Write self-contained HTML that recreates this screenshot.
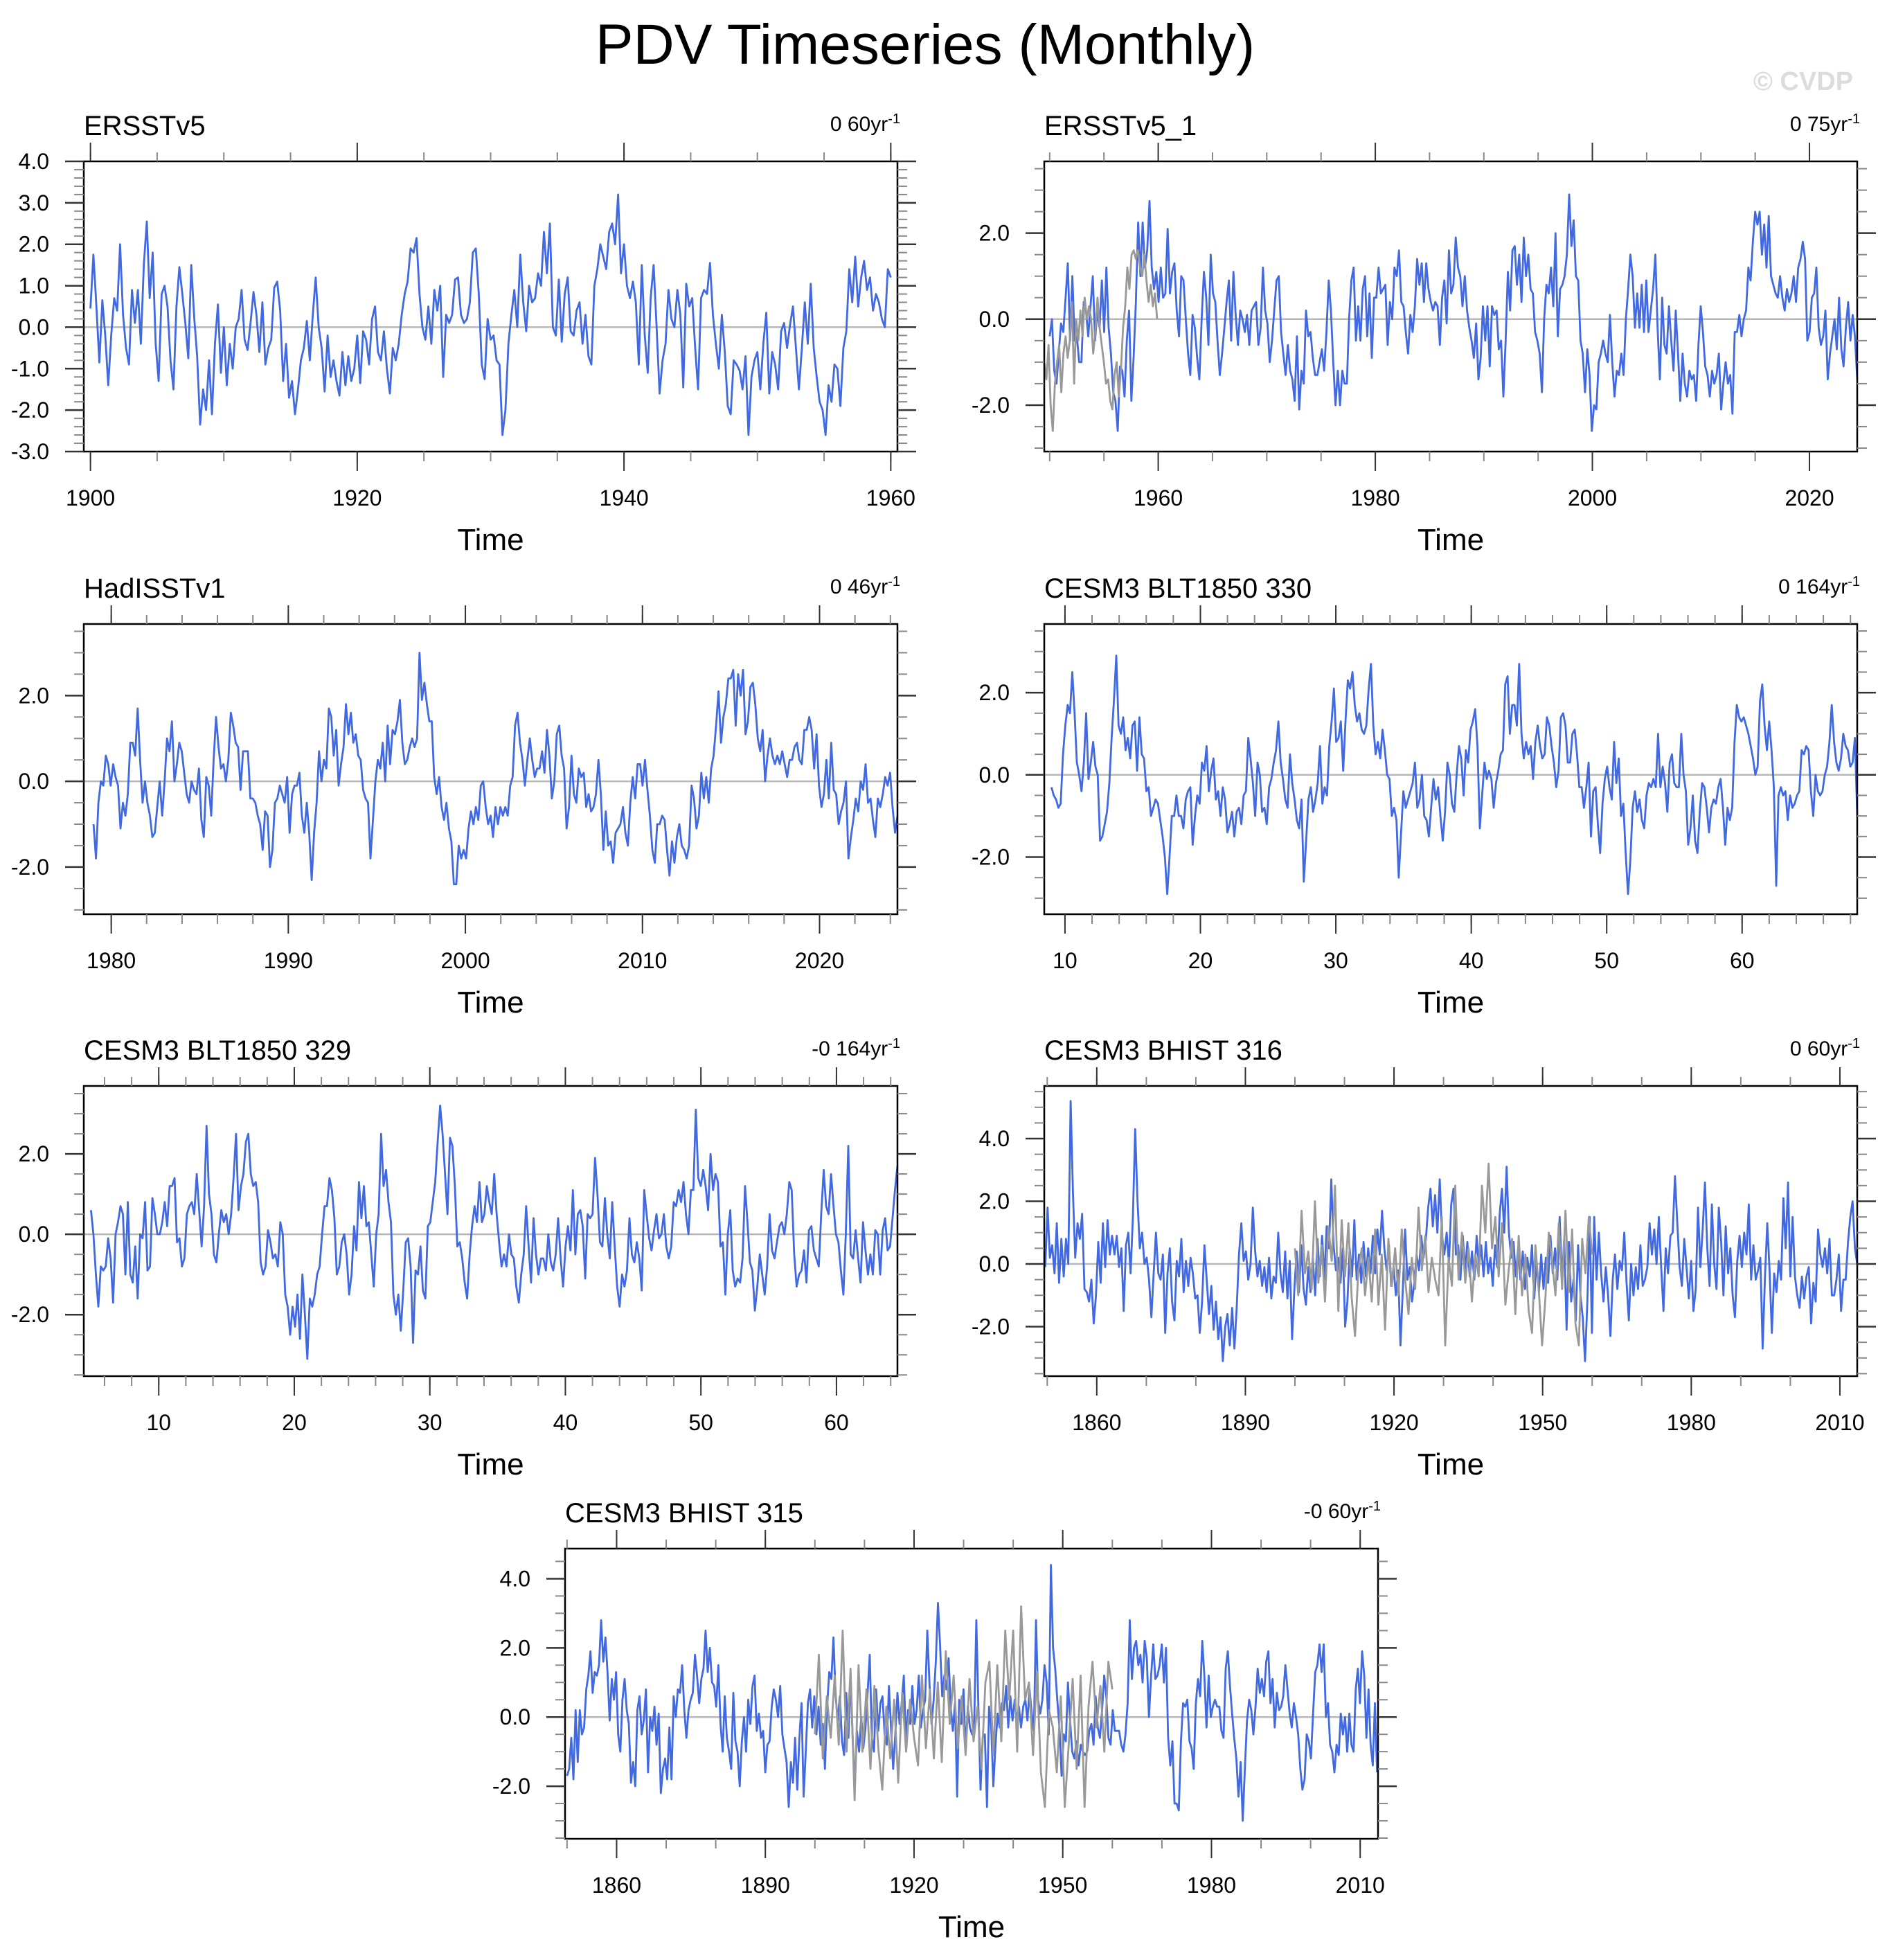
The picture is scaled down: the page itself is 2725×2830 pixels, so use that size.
<!DOCTYPE html>
<html><head><meta charset="utf-8"><title>PDV Timeseries (Monthly)</title>
<style>html,body{margin:0;padding:0;background:#fff;}svg{display:block;}text{font-family:"Liberation Sans",Arial,sans-serif;}</style>
</head><body>
<svg id="chart" xmlns="http://www.w3.org/2000/svg" width="2725" height="2830" viewBox="0 0 2725 2830">
<rect width="2725" height="2830" fill="#fff"/>
<text x="1336" y="92" font-size="82" text-anchor="middle" fill="#000">PDV Timeseries (Monthly)</text>
<text x="2676" y="130" font-size="38" font-weight="bold" text-anchor="end" fill="#dcdcdc">© CVDP</text>
<g id="panels"></g>
</svg>
<script>
// ---------- data ----------
const p1Span = [1900, 1960];
const p1Blue = [0.45,1.75,0.5,-0.85,0.65,-0.2,-1.4,-0.2,0.7,0.4,2.0,0.3,-0.5,-0.9,0.9,0.1,0.9,-0.4,1.5,2.55,0.7,1.8,-0.4,-1.3,0.8,1.0,0.5,-0.8,-1.5,0.5,1.45,0.8,0.1,-0.75,1.5,0.25,-0.7,-2.35,-1.5,-2.0,-0.8,-2.1,-0.4,0.55,-1.1,0.0,-1.4,-0.4,-1.0,0.0,0.2,0.9,-0.3,-0.55,0.1,0.85,0.3,-0.6,0.6,-0.9,-0.5,-0.3,0.95,1.1,0.4,-1.3,-0.4,-1.7,-1.3,-2.1,-1.5,-0.8,-0.5,0.15,-0.8,0.3,1.2,0.0,-0.5,-1.55,-0.2,-1.2,-0.8,-1.3,-1.65,-0.6,-1.4,-0.7,-1.3,-1.0,-0.2,-1.35,-0.1,-0.3,-0.9,0.2,0.5,-0.6,-0.8,-0.1,-1.0,-1.6,-0.5,-0.8,-0.4,0.3,0.8,1.1,1.9,1.8,2.15,0.8,0.0,-0.3,0.5,-0.4,0.9,0.4,1.0,-1.2,0.3,0.1,0.3,1.15,1.2,0.3,0.1,0.2,0.6,1.8,1.9,0.8,-0.9,-1.25,0.2,-0.3,-0.2,-0.8,-0.9,-2.6,-2.0,-0.4,0.3,0.9,0.0,1.75,0.6,-0.1,1.0,0.6,0.7,1.3,1.0,2.3,1.3,2.5,0.0,-0.2,1.15,-0.35,0.8,1.2,-0.1,-0.2,0.4,0.6,-0.4,0.3,-0.7,-0.9,1.0,1.4,2.0,1.7,1.4,2.3,2.5,2.0,3.2,1.3,2.0,1.0,0.7,1.1,0.6,-0.9,1.5,-0.2,-1.1,0.7,1.5,0.0,-1.6,-0.8,-0.4,0.9,0.2,0.0,0.9,0.3,-1.45,1.05,0.5,0.7,-0.5,-1.5,0.7,0.9,0.8,1.55,0.3,-0.4,-1.0,0.3,-0.6,-1.9,-2.1,-0.8,-0.9,-1.05,-1.5,-0.7,-2.6,-1.2,-0.8,-0.6,-1.5,-0.4,0.35,-1.6,-0.6,-0.9,-1.5,-0.1,0.1,-0.5,0.05,0.5,-0.5,-1.5,-0.5,0.6,-0.4,1.05,-0.5,-1.2,-1.8,-2.0,-2.6,-1.4,-1.8,-0.9,-1.0,-1.9,-0.5,-0.1,1.4,0.6,1.7,0.5,1.2,1.6,0.9,1.2,0.4,0.8,0.6,0.2,0.0,1.4,1.2];

const p2Span = [1950.0, 2024.4];
const p2Blue = [-0.4,0.0,-1.2,-1.5,-0.8,-0.1,-0.3,0.5,1.3,-0.5,1.0,-0.5,-0.4,-1.0,-1.0,0.4,0.2,-0.4,0.3,1.0,-0.5,0.2,-0.2,0.9,-0.3,1.2,-0.2,-0.8,-1.7,-1.9,-2.6,-1.1,-1.2,-1.8,-0.5,0.2,-1.9,-0.9,0.4,2.25,1.0,2.25,1.2,1.6,2.75,1.2,0.7,1.1,0.4,1.2,0.5,0.6,2.1,0.6,1.1,1.3,0.2,-0.4,1.0,0.9,0.0,-0.8,-1.3,0.1,-0.2,-0.9,-1.4,0.0,1.1,0.5,-0.6,1.5,0.6,0.4,-0.5,-1.3,-0.8,-0.2,0.4,0.9,-0.5,1.1,0.1,-0.6,0.2,0.0,-0.3,0.1,-0.6,0.2,0.3,0.4,-0.6,-0.2,1.2,0.2,-0.1,-1.0,-0.5,0.2,0.9,1.0,-0.3,-0.8,-1.3,-0.6,-1.2,-1.4,-1.9,-0.4,-2.1,-1.2,-1.5,0.2,-0.4,-0.3,-0.9,-1.3,-1.3,-1.0,-0.7,-1.2,-0.3,0.9,0.2,-1.0,-2.0,-1.2,-2.0,-1.2,-1.5,-1.5,0.0,0.9,1.2,-0.5,0.3,-0.5,0.7,1.0,-0.4,0.6,-0.9,0.5,0.5,1.2,0.6,0.7,0.8,-0.6,0.4,0.0,1.2,1.0,1.6,0.4,0.3,-0.3,-0.8,0.1,-0.3,0.3,1.4,0.8,1.3,0.4,1.3,0.7,0.4,0.2,0.4,0.3,-0.6,0.5,0.9,-0.1,1.6,0.6,0.8,1.9,1.2,1.0,0.3,1.0,0.2,-0.2,-0.5,-0.9,-0.1,-1.4,-0.9,0.3,-0.5,0.3,-1.1,0.3,0.1,0.2,-0.7,-0.5,-1.8,-0.5,1.1,0.2,1.6,1.7,0.8,1.5,0.4,1.9,1.0,1.5,0.7,0.6,-0.3,-0.5,-0.8,-1.7,0.0,0.8,0.6,1.2,0.3,2.0,-0.4,0.7,0.8,1.0,1.5,2.9,1.7,2.3,1.0,0.9,-0.5,-0.8,-1.7,-0.7,-1.3,-2.6,-2.0,-2.1,-1.0,-0.8,-0.5,-0.8,-1.0,0.1,-1.0,-1.8,-1.2,-1.3,-0.8,-1.3,0.0,0.7,1.5,1.0,-0.2,0.6,-0.2,0.8,-0.3,0.9,-0.3,0.2,0.7,1.5,-0.2,-1.4,0.5,-0.6,-0.8,0.3,-0.5,-1.2,0.2,-0.8,-1.9,-0.8,-1.5,-1.8,-1.2,-1.4,-1.3,-1.9,-0.6,0.3,-0.3,-1.1,-1.3,-1.8,-1.2,-1.5,-1.3,-0.8,-2.1,-1.5,-1.0,-1.5,-1.3,-2.2,-0.3,-0.3,0.1,-0.4,0.0,0.2,1.2,0.9,1.8,2.5,2.2,2.5,1.5,2.2,1.2,2.4,1.0,0.8,0.6,0.5,1.0,0.5,0.2,0.7,0.4,0.6,1.0,0.4,1.2,1.4,1.8,1.4,-0.5,-0.3,0.5,0.6,1.2,-0.2,-0.6,-0.4,0.2,-1.4,-0.8,-0.4,0.0,-0.7,0.5,-0.7,-1.1,-0.2,0.4,-0.5,0.1,-0.4,-1.4];
const p2GraySpan = [1949.5, 1959.9];
const p2Gray = [-1.0,-1.4,-0.6,-2.0,-2.6,-1.5,-1.0,-0.6,-1.7,-0.8,-0.4,-0.9,-0.5,0.4,-1.5,0.0,-0.5,0.2,-0.4,0.5,0.0,0.3,0.0,-0.8,-0.3,0.5,-0.2,-0.6,-1.0,-1.5,-1.4,-1.9,-2.1,-1.3,-1.0,-1.8,-1.2,-0.2,0.3,1.2,0.7,1.5,1.6,1.4,1.6,1.2,1.0,1.5,0.9,0.4,0.8,0.3,0.6,0.0];

const p3Span = [1979.0, 2024.4];
const p3Blue = [-1.0,-1.8,-0.5,0.0,-0.1,0.6,0.4,-0.1,0.4,0.1,-0.1,-1.1,-0.5,-0.8,-0.3,0.9,0.9,0.6,1.7,0.5,-0.5,0.0,-0.5,-0.8,-1.3,-1.2,-0.6,0.0,-0.8,0.0,1.0,0.7,1.4,0.0,0.4,0.9,0.7,0.2,-0.3,-0.5,0.0,-0.2,-0.3,0.3,-0.9,-1.3,0.1,-0.1,-0.8,0.5,1.5,0.8,0.3,0.4,0.0,0.5,1.6,1.3,0.9,0.8,-0.2,0.7,0.7,0.7,-0.4,-0.4,-0.5,-0.8,-1.0,-1.6,-0.7,-0.8,-2.0,-1.6,-0.5,-0.4,-0.1,-0.3,-0.5,0.1,-1.2,-0.3,-0.1,-0.1,0.2,-0.8,-1.2,-0.5,-1.2,-2.3,-1.2,-0.5,0.7,0.0,0.5,0.3,1.7,1.5,0.6,1.2,-0.1,0.4,0.8,1.8,1.1,1.6,0.9,1.1,0.6,0.5,-0.2,-0.4,-0.5,-1.8,-0.9,0.0,0.5,0.3,0.9,0.0,1.3,0.4,1.2,1.1,1.4,1.9,0.9,0.4,0.5,0.8,1.0,0.8,1.0,3.0,1.9,2.3,1.8,1.4,1.4,0.1,-0.3,0.1,-0.6,-0.9,-0.5,-1.1,-1.4,-2.4,-2.4,-1.5,-1.8,-1.6,-1.8,-1.1,-0.7,-1.0,-0.6,-0.9,-0.1,0.0,-0.6,-1.0,-0.8,-1.3,-0.6,-1.0,-0.6,-0.8,-0.6,-0.8,-0.1,0.1,1.3,1.6,0.9,0.5,-0.1,0.5,1.0,0.5,0.1,0.3,0.3,0.7,0.2,1.2,0.6,-0.4,0.0,1.1,1.3,0.6,0.3,-1.1,-0.6,0.6,-0.3,-0.5,0.3,0.1,0.2,-0.6,-0.3,-0.7,-0.6,-0.3,0.5,-0.3,-1.6,-0.7,-1.5,-1.4,-1.9,-1.2,-1.1,-1.0,-0.6,-1.2,-1.5,-0.5,0.1,-0.4,0.4,0.4,-0.1,0.5,-0.2,-0.8,-1.6,-1.9,-1.0,-1.0,-0.8,-0.9,-1.6,-2.2,-1.4,-1.9,-1.3,-1.0,-1.5,-1.6,-1.8,-1.5,-0.1,-0.4,-1.1,-0.8,0.2,-0.4,0.1,-0.5,0.3,0.6,1.3,2.1,0.9,1.5,1.8,2.4,2.4,2.6,1.3,2.5,2.0,2.6,1.1,1.4,2.2,2.3,1.8,1.0,0.7,1.2,0.0,0.6,1.0,0.6,0.4,0.6,0.4,0.7,0.4,0.1,0.5,0.5,0.8,0.9,0.5,0.4,1.2,1.2,1.5,1.2,0.3,1.1,-0.1,-0.6,-0.3,0.5,-0.4,0.9,-0.2,-0.3,-1.0,-0.7,-0.5,0.0,-1.8,-1.3,-0.9,-0.4,-0.7,0.0,-0.2,0.4,-0.5,-0.4,-0.9,-1.3,-0.4,-0.6,-0.3,0.1,-0.1,0.2,-0.6,-1.2,-0.8];

const p4Span = [9.0, 68.5];
const p4Blue = [-0.3,-0.5,-0.6,-0.8,-0.7,0.5,1.2,1.7,1.5,2.5,1.5,0.3,0.0,-0.4,0.3,1.5,-0.1,0.3,0.8,0.2,0.0,-1.6,-1.5,-1.2,-0.9,-0.2,0.9,1.8,2.9,1.2,1.0,1.4,0.6,0.9,0.4,1.2,1.3,0.1,1.4,0.5,0.4,-0.4,-0.3,-1.0,-0.8,-0.6,-0.7,-1.1,-1.5,-2.0,-2.9,-2.0,-1.0,-1.0,-0.5,-1.0,-1.0,-1.3,-0.6,-0.4,-0.3,-1.7,-1.0,-0.5,-0.7,0.3,0.1,0.7,-0.4,0.1,0.4,-0.6,-0.4,-1.0,-0.3,-0.6,-1.4,-1.2,-0.9,-1.5,-0.9,-0.8,-1.2,-0.5,-0.4,0.9,0.4,-0.2,-1.0,0.3,0.0,-0.9,-0.8,-1.2,-0.3,-0.1,0.3,0.6,1.3,0.3,-0.1,-0.6,-0.8,0.5,-0.2,-0.6,-1.1,-1.3,-0.6,-2.6,-1.6,-0.6,-0.3,-0.9,-0.6,-0.2,0.7,-0.7,-0.3,-0.5,0.7,1.3,2.1,0.8,0.9,1.3,0.1,1.3,2.3,2.1,2.5,1.7,1.3,1.5,1.1,1.0,1.2,2.1,2.7,1.2,0.5,0.8,0.4,1.1,0.6,0.0,-0.1,-1.0,-0.8,-1.1,-2.5,-1.4,-0.4,-0.8,-0.6,-0.4,-0.2,0.3,-0.8,-0.6,0.0,-1.0,-1.1,-1.5,-0.8,-0.1,-0.6,-0.3,-1.0,-1.6,-0.9,0.3,0.0,-0.7,-0.9,0.0,0.7,0.4,-0.5,0.6,0.3,1.1,1.3,1.6,0.7,-1.3,-0.5,0.3,-0.1,0.1,-0.1,-0.8,-0.2,0.1,0.5,0.6,2.2,2.4,1.0,1.7,1.7,1.2,2.7,1.0,0.4,0.8,0.5,0.7,-0.1,0.8,1.2,0.7,0.4,0.5,1.4,1.2,0.7,0.3,-0.3,0.1,1.4,1.5,1.2,0.3,0.3,1.0,1.1,0.5,-0.3,-0.3,-0.8,-0.3,0.3,-1.5,-0.4,-0.3,-1.2,-1.9,-0.7,-0.1,0.2,-0.3,-0.6,0.8,-0.2,0.4,-1.0,-0.7,-1.9,-2.9,-2.1,-0.8,-0.4,-0.9,-0.6,-1.1,-1.3,-0.5,-0.2,-0.3,-0.1,-0.3,1.0,-0.3,0.2,-0.2,-0.9,0.3,0.5,-0.2,-0.3,-0.3,1.0,0.0,-0.4,-1.7,-1.3,-0.5,-1.6,-1.9,-0.9,-0.2,-0.3,-0.8,-1.4,-0.8,-0.6,-0.7,-0.3,-0.1,-0.8,-1.7,-0.8,-1.1,-0.8,0.8,1.7,1.4,1.3,1.4,1.2,1.0,0.7,0.4,0.0,0.2,1.8,2.2,1.2,0.6,1.3,0.6,-0.3,-2.7,-0.5,-0.3,-0.5,-0.4,-1.1,-0.5,-0.8,-0.7,-0.5,-0.4,0.6,0.5,0.7,0.6,-0.4,-1.0,0.0,-0.4,-0.5,-0.4,0.0,0.2,0.8,1.7,0.8,0.3,0.1,0.4,1.0,0.7,0.6,0.2,0.3,0.9,-1.0];

const p5Span = [5.0, 64.5];
const p5Blue = [0.6,0.0,-1.0,-1.8,-0.8,-0.9,-0.8,-0.1,-0.6,-1.7,0.0,0.3,0.7,0.5,-1.0,0.8,-1.0,-1.2,-0.3,-1.6,0.0,-0.1,0.8,-0.9,-0.8,0.9,0.5,0.0,0.0,0.3,0.8,0.2,1.2,1.2,1.4,-0.2,-0.1,-0.8,-0.6,0.5,0.7,0.8,0.5,1.5,0.6,-0.3,0.7,2.7,1.0,0.5,-0.5,-0.7,0.0,0.6,0.3,0.5,0.0,0.5,1.4,2.5,0.6,1.2,1.5,2.3,2.5,1.5,1.2,1.3,0.8,-0.7,-1.0,-0.8,0.1,-0.2,-0.6,-0.5,-0.8,0.3,0.0,-1.5,-1.8,-2.5,-1.8,-2.3,-1.5,-2.6,-1.0,-2.0,-3.1,-1.6,-1.8,-1.5,-1.0,-0.8,0.0,0.7,0.7,1.4,1.1,0.4,-1.0,-0.8,-0.2,0.0,-0.5,-1.5,-1.0,0.2,-0.4,1.3,0.4,1.2,0.2,0.3,-0.5,-1.3,0.0,0.5,2.5,1.2,1.6,0.8,0.3,-1.5,-2.0,-1.5,-2.4,-1.4,-0.2,-0.1,-0.8,-2.7,-0.9,-1.0,-0.3,-1.4,-1.6,0.2,0.3,0.8,1.3,2.3,3.2,2.5,1.5,0.5,2.4,2.2,1.2,-0.3,-0.2,-0.6,-1.2,-1.6,-0.5,0.2,0.7,0.3,1.3,0.3,0.5,1.2,0.8,0.5,1.5,0.5,-0.2,-0.8,-0.5,-0.8,0.0,-0.5,-0.6,-1.3,-1.7,-1.0,-0.5,0.7,-0.3,-1.2,0.4,-0.5,-1.0,-0.6,-0.6,-0.9,0.0,-0.7,-0.9,-0.5,0.4,-0.6,-1.3,-0.3,0.2,-0.4,1.1,-0.5,0.5,0.6,0.2,-1.1,0.5,0.4,0.5,1.9,1.0,-0.2,-0.3,0.9,0.0,-0.6,0.8,-0.3,-1.3,-1.8,-1.0,-1.3,-0.9,0.4,-0.5,-0.7,-0.2,-0.6,-1.4,1.1,0.5,-0.1,-0.4,0.1,0.5,-0.1,0.0,0.5,-0.3,-0.6,-0.3,0.8,0.7,1.1,0.8,1.3,0.5,0.0,1.1,1.1,3.1,1.4,1.2,1.6,1.2,0.6,2.0,1.1,1.5,1.3,-0.3,-0.2,-1.5,0.0,0.6,-0.9,-1.3,-1.1,-1.2,-0.6,1.2,0.3,-0.7,-0.9,-1.9,-1.3,-0.5,-1.0,-1.5,-0.8,0.5,-0.4,-0.6,-0.2,0.2,0.3,0.0,0.5,1.3,1.1,-0.5,-1.3,-1.0,-0.9,-0.4,-1.2,0.1,0.2,-0.4,-0.6,-0.8,0.5,1.6,0.7,0.5,1.5,0.7,0.0,-0.2,-0.9,-1.5,0.0,2.2,-0.5,-0.6,0.1,-0.6,-1.2,0.3,-0.4,-1.0,-0.5,-1.0,0.1,0.0,-1.0,0.1,0.4,-0.4,-0.3,0.4,1.1,1.7];

const p6Span = [1849.6, 2013.5];
const p6Blue = [-0.1,1.8,0.2,0.6,-0.3,1.3,-0.6,0.8,-0.4,0.8,0.0,5.2,2.3,0.2,1.3,0.8,1.6,-0.8,-0.9,-1.2,-0.5,-1.9,-1.0,0.7,-0.6,1.3,-0.1,1.4,0.3,0.9,0.3,0.9,-0.1,0.5,-1.5,0.6,1.0,-0.3,1.5,4.3,2.0,0.5,1.0,0.0,0.2,-0.5,-1.7,-0.3,1.0,-0.3,-0.5,0.3,-2.2,-0.3,0.5,-1.2,-1.8,0.1,-0.4,0.8,-0.9,0.1,-0.7,0.2,-0.3,-1.1,-1.0,-2.2,-1.2,0.6,-0.5,-1.6,-0.7,-2.1,-1.2,-2.4,-1.7,-3.1,-2.0,-1.6,-2.6,-1.4,-2.7,-1.4,0.3,1.3,0.1,0.4,-0.5,0.0,1.8,0.4,-0.4,0.1,-0.7,-0.1,-0.9,0.2,-1.1,-0.4,-0.6,1.0,-0.3,-0.9,0.4,-1.1,0.1,-2.4,-0.8,0.4,-0.9,0.6,-0.8,-1.3,-0.1,-0.9,0.2,-1.0,0.8,-0.4,0.9,-0.5,1.2,0.5,2.7,0.6,-0.2,0.2,-0.6,0.5,-2.0,-1.2,0.5,-0.4,1.4,-0.5,0.3,-0.6,0.7,-0.4,0.5,-0.3,0.9,-0.3,1.1,0.3,1.7,0.5,-0.2,0.6,-0.7,-0.1,-1.0,-0.2,-2.6,-0.8,1.1,-0.5,-0.1,-1.2,-0.6,0.3,-0.2,0.9,0.2,0.8,1.8,2.4,1.2,2.2,1.0,2.7,0.9,0.3,1.0,0.0,1.9,2.4,0.3,0.6,-0.5,0.9,-0.2,0.7,-0.4,0.4,-0.5,0.9,-0.1,0.6,-0.4,0.7,-0.3,0.2,-0.7,0.6,-0.1,1.6,2.4,1.0,3.1,1.0,0.2,0.7,-0.4,0.5,-0.5,0.4,-0.8,0.2,-0.4,0.6,-1.1,0.1,-0.9,0.3,-0.8,0.2,-0.6,0.9,-0.3,0.5,-0.5,1.5,-0.5,0.8,-2.1,0.7,-1.2,-0.5,-1.8,0.6,-1.0,-1.7,-3.1,-1.2,1.5,-2.2,1.5,-0.5,1.0,-0.3,-1.2,-0.1,-1.0,-2.3,-0.5,0.3,-0.8,0.1,-0.2,1.0,-0.6,-1.8,0.0,-1.0,-0.1,-0.8,0.6,-0.7,-0.5,-0.1,1.3,0.3,1.1,0.0,1.5,-0.1,-1.5,0.5,-0.3,0.9,1.0,2.8,1.3,-0.1,-0.7,0.8,-0.1,-1.1,0.1,-1.5,-0.8,1.8,-0.1,1.1,2.6,0.5,-0.7,1.9,0.0,-0.8,1.8,0.7,-1.0,1.2,-0.3,0.5,-1.0,-1.7,0.1,0.9,-0.1,1.0,0.3,1.9,-0.5,0.6,-0.5,-0.2,0.2,-2.7,-0.4,1.3,-0.2,-2.2,-0.3,-0.9,0.1,-0.5,2.1,0.5,2.6,-0.4,1.5,-0.4,-1.0,-1.4,-0.4,-1.1,-0.4,-0.1,-1.9,-0.6,-1.2,1.1,0.3,-0.1,0.5,-0.3,0.8,-1.0,-1.0,-0.5,0.3,-1.5,-0.5,-0.5,0.7,1.5,2.0,0.5,0.0];
const p6GraySpan = [1900.0, 1960.0];
const p6Gray = [0.5,-1.0,1.7,-0.3,0.4,-0.8,2.0,-0.6,0.6,-1.2,1.2,0.1,2.5,-1.5,1.4,-0.4,1.3,-1.1,-2.3,-0.2,0.5,-1.0,0.2,-1.2,1.1,-1.3,0.3,-2.1,0.8,-0.7,0.5,-1.0,1.1,-0.5,-1.6,0.2,-0.8,1.8,-0.2,0.9,-0.9,0.2,-0.5,-1.0,1.5,-2.6,0.2,-0.7,2.5,-0.5,1.0,-0.6,0.5,-1.2,0.3,-0.4,2.5,1.0,3.2,0.5,1.5,-0.4,1.3,-1.3,-0.2,0.8,-1.6,0.9,-1.0,0.3,-1.5,-2.2,0.6,-0.8,-2.6,-1.1,1.0,0.1,-1.0,1.3,-0.8,1.7,-0.9,1.1,-1.9,-2.6,0.8,-0.3,1.5,0.3];

const p7Span = [1850.0, 2013.4];
const p7Blue = [-1.7,-1.5,-0.6,-1.8,0.2,-1.3,0.2,-0.5,-0.3,0.8,1.2,1.9,0.7,1.3,1.2,1.5,2.8,1.6,2.3,1.3,-0.1,1.1,0.5,1.3,-0.5,-1.0,0.5,1.1,0.2,-0.2,-1.9,-1.3,-2.0,0.2,0.6,-0.5,-0.1,0.8,-1.6,0.0,-0.4,0.3,-0.8,0.1,-2.2,-1.5,-1.2,-1.8,-0.3,-1.8,0.6,0.0,0.8,0.7,1.5,0.2,-0.6,0.2,0.5,0.7,1.8,1.2,0.4,1.1,1.4,2.5,1.3,2.0,1.0,0.9,0.3,1.5,-0.2,-1.0,0.6,-0.6,-1.0,-1.5,0.7,-0.7,-1.0,-2.0,-0.7,0.0,-1.0,0.5,-0.2,0.9,1.2,-0.4,0.1,-0.6,-0.4,-1.6,-0.8,-0.7,0.3,0.8,0.5,0.0,0.9,-0.5,-0.9,-1.3,-2.6,-1.3,-1.9,-0.6,-2.1,-0.6,0.4,-2.3,-1.0,0.4,0.8,-0.3,0.6,-0.5,0.3,-0.8,-0.2,-1.5,0.3,1.3,1.1,2.3,0.6,-0.1,0.6,-0.7,-1.1,0.7,-0.6,1.2,-0.6,-2.0,-0.4,-1.0,0.0,-0.9,-0.3,0.7,1.8,-0.6,-1.0,0.8,-0.4,0.4,0.6,-0.5,-0.8,0.9,-0.3,-1.5,-0.5,0.7,-0.2,0.4,1.2,-0.7,0.2,-0.2,0.9,-0.2,0.2,1.2,-0.3,0.2,0.5,2.5,1.0,-0.2,0.5,1.6,3.3,2.1,0.6,1.2,0.8,1.7,0.3,-0.4,0.4,-2.3,0.5,-0.2,0.8,-1.0,0.3,-0.3,-0.5,-0.2,2.8,0.2,-2.1,-0.6,-0.5,-2.6,0.3,-0.3,-2.0,-0.8,0.1,-0.3,0.4,0.2,0.9,-0.3,0.6,-0.1,0.5,-0.1,0.3,-0.3,0.3,0.5,-0.1,0.8,0.1,-0.4,2.8,0.5,0.1,0.5,1.5,1.0,-0.5,4.4,2.0,1.4,0.5,-0.3,-1.7,-0.5,-0.7,1.0,-0.1,-1.0,-1.2,-0.7,-1.4,-0.8,-1.0,-1.1,-1.0,-0.4,-0.2,-0.8,0.6,-0.3,-0.6,0.2,1.2,0.6,-0.6,-0.8,0.2,-0.4,-0.4,-0.4,-0.8,-1.0,-0.5,0.4,2.8,1.1,2.0,2.2,1.5,1.8,1.0,2.2,1.7,0.0,1.2,2.1,1.1,1.2,1.5,2.1,1.0,2.0,-0.6,-1.4,-0.7,-2.5,-2.5,-2.7,-0.7,0.4,0.3,0.5,-0.7,-0.9,-1.5,0.4,1.1,0.6,2.2,1.2,-0.3,1.2,0.0,0.3,0.5,0.3,0.3,-0.4,-0.6,1.4,1.9,0.9,0.1,-0.6,-1.2,-2.3,-1.3,-3.0,-1.5,-0.1,0.5,0.2,-0.5,0.3,1.4,0.7,1.1,0.6,1.6,1.9,0.4,1.1,-0.3,0.7,0.2,0.3,0.6,1.5,0.8,0.1,-0.3,0.4,0.0,-0.5,-1.5,-2.1,-1.8,-0.5,-0.7,-1.2,0.1,1.3,1.5,2.1,1.3,2.1,0.0,0.4,-0.8,-1.0,-1.6,-0.8,-1.1,0.1,-0.5,0.0,-1.0,0.1,-0.8,-1.0,0.8,1.4,0.4,1.9,1.2,-0.6,0.8,-0.8,-1.4,0.4,-1.6];
const p7GraySpan = [1900.0, 1960.0];
const p7Gray = [-0.5,1.8,-1.2,0.6,-0.6,1.2,-0.8,2.5,-1.0,1.4,-2.4,1.5,-1.0,0.8,-1.5,0.9,-0.9,-2.1,0.3,-1.2,0.5,-1.9,0.7,-1.0,0.5,-0.6,-1.4,1.2,-0.9,0.8,-1.2,1.0,-1.3,1.9,-0.2,1.2,-0.9,0.6,-1.1,1.1,-0.7,0.3,-1.5,1.0,1.6,-1.1,1.5,-0.7,2.5,0.5,2.5,-1.0,3.2,0.5,1.0,-1.1,1.3,-1.6,-2.6,0.2,-0.3,-1.6,0.6,-2.6,-0.8,1.1,-1.5,1.2,-2.6,0.3,1.6,-0.3,0.9,-1.0,1.6,0.8];

// ---------- layout (not data) ----------
const SVGNS = 'http://www.w3.org/2000/svg';
const panels = [
 {id:'ersstv5', title:'ERSSTv5', trend:'0 60yr', box:[121,233,1175,419], xd:[1899.5,1960.5], yd:[-3,4],
  xMaj:[1900,1960,20], xMin:[1900,1960,5], yMaj:[-3,4,1], yMin:[-3,4,0.2], series:[[p1Span,p1Blue,'blue']]},
 {id:'ersstv5-1', title:'ERSSTv5_1', trend:'0 75yr', box:[1508,233,1174,419], xd:[1949.5,2024.4], yd:[-3.08,3.67],
  xMaj:[1960,2020,20], xMin:[1950,2020,5], yMaj:[-2,2,2], yMin:[-3,3.5,0.5], series:[[p2Span,p2Blue,'blue'],[p2GraySpan,p2Gray,'gray']]},
 {id:'hadisstv1', title:'HadISSTv1', trend:'0 46yr', box:[121,901,1175,419], xd:[1978.45,2024.4], yd:[-3.1,3.67],
  xMaj:[1980,2020,10], xMin:[1980,2024,2], yMaj:[-2,2,2], yMin:[-3,3.5,0.5], series:[[p3Span,p3Blue,'blue']]},
 {id:'cesm3-blt1850-330', title:'CESM3 BLT1850 330', trend:'0 164yr', box:[1508,901,1174,419], xd:[8.47,68.5], yd:[-3.39,3.67],
  xMaj:[10,60,10], xMin:[10,68,2], yMaj:[-2,2,2], yMin:[-3,3.5,0.5], series:[[p4Span,p4Blue,'blue']]},
 {id:'cesm3-blt1850-329', title:'CESM3 BLT1850 329', trend:'-0 164yr', box:[121,1568,1175,419], xd:[4.47,64.5], yd:[-3.53,3.69],
  xMaj:[10,60,10], xMin:[6,64,2], yMaj:[-2,2,2], yMin:[-3.5,3.5,0.5], series:[[p5Span,p5Blue,'blue']]},
 {id:'cesm3-bhist-316', title:'CESM3 BHIST 316', trend:'0 60yr', box:[1508,1568,1174,419], xd:[1849.4,2013.5], yd:[-3.58,5.68],
  xMaj:[1860,2010,30], xMin:[1850,2010,10], yMaj:[-2,4,2], yMin:[-3.5,5.5,0.5], series:[[p6Span,p6Blue,'blue'],[p6GraySpan,p6Gray,'gray']]},
 {id:'cesm3-bhist-315', title:'CESM3 BHIST 315', trend:'-0 60yr', box:[816,2236,1174,419], xd:[1849.6,2013.6], yd:[-3.52,4.87],
  xMaj:[1860,2010,30], xMin:[1850,2010,10], yMaj:[-2,4,2], yMin:[-3.5,4.5,0.5], series:[[p7Span,p7Blue,'blue'],[p7GraySpan,p7Gray,'gray']]}
];

function mk(tag, attrs, parent){ const e=document.createElementNS(SVGNS,tag); for(const k in attrs) e.setAttribute(k,attrs[k]); parent.appendChild(e); return e; }
function xScale(p,t){ return p.box[0] + (t-p.xd[0])/(p.xd[1]-p.xd[0])*p.box[2]; }
function yScale(p,v){ return p.box[1] + p.box[3] - (v-p.yd[0])/(p.yd[1]-p.yd[0])*p.box[3]; }
function range(a,b,s){ const r=[]; const n=Math.round((b-a)/s); for(let i=0;i<=n;i++) r.push(+(a+i*s).toFixed(4)); return r; }

const root = document.getElementById('panels');
panels.forEach(p=>{
  const [bx,by,bw,bh]=p.box;
  const g = mk('g',{},root);
  
  
  const z = mk('line',{x1:bx,x2:bx+bw,y1:yScale(p,0),y2:yScale(p,0),stroke:'#b8b8b8','stroke-width':2.5},g);
  
  
  p.series.forEach(s=>{
    const span=s[0], vals=s[1], n=vals.length;
    const pts = vals.map((v,i)=>{ const t=span[0]+i*(span[1]-span[0])/(n-1); return xScale(p,t).toFixed(1)+','+yScale(p,v).toFixed(1); }).join(' ');
    const pl = mk('polyline',{points:pts,fill:'none',stroke:s[2]==='blue'?'#4169e1':'#999999','stroke-width':2.8,'stroke-linejoin':'round'},g);
    
    
  });
  const fr = mk('rect',{x:bx,y:by,width:bw,height:bh,fill:'none',stroke:'#000','stroke-width':2.5},g);
  
  
  const tg = mk('g',{},g);
  
  
  range(p.xMin[0],p.xMin[1],p.xMin[2]).forEach(t=>{ const x=xScale(p,t);
    mk('line',{x1:x,x2:x,y1:by,y2:by-13,stroke:'#888','stroke-width':2},tg);
    mk('line',{x1:x,x2:x,y1:by+bh,y2:by+bh+14,stroke:'#888','stroke-width':2},tg); });
  range(p.xMaj[0],p.xMaj[1],p.xMaj[2]).forEach(t=>{ const x=xScale(p,t);
    mk('line',{x1:x,x2:x,y1:by,y2:by-27,stroke:'#333','stroke-width':2},tg);
    mk('line',{x1:x,x2:x,y1:by+bh,y2:by+bh+28,stroke:'#333','stroke-width':2},tg);
    const lb = mk('text',{x:x,y:by+bh+78,'font-size':32,'text-anchor':'middle',fill:'#000'},g);
    lb.textContent = String(t);
    
     });
  range(p.yMin[0],p.yMin[1],p.yMin[2]).forEach(v=>{ const y=yScale(p,v);
    mk('line',{x1:bx,x2:bx-14,y1:y,y2:y,stroke:'#888','stroke-width':2},tg);
    mk('line',{x1:bx+bw,x2:bx+bw+14,y1:y,y2:y,stroke:'#888','stroke-width':2},tg); });
  range(p.yMaj[0],p.yMaj[1],p.yMaj[2]).forEach(v=>{ const y=yScale(p,v);
    mk('line',{x1:bx,x2:bx-27,y1:y,y2:y,stroke:'#333','stroke-width':2.5},tg);
    mk('line',{x1:bx+bw,x2:bx+bw+27,y1:y,y2:y,stroke:'#333','stroke-width':2.5},tg);
    const lb = mk('text',{x:bx-50,y:y+11,'font-size':32,'text-anchor':'end',fill:'#000'},g);
    lb.textContent = v.toFixed(1);
    
     });
  const tt = mk('text',{x:bx,y:by-38,'font-size':40,fill:'#000'},g);
  tt.textContent = p.title;
  
  
  const tr = mk('text',{x:bx+bw+4,y:by-44,'font-size':30,'text-anchor':'end',fill:'#000'},g);
  
  
  const t1 = mk('tspan',{},tr); t1.textContent = p.trend;
  const t2 = mk('tspan',{dy:-11,'font-size':20},tr); t2.textContent = '-1';
  const xt = mk('text',{x:bx+bw/2,y:by+bh+142,'font-size':44,'text-anchor':'middle',fill:'#000'},g);
  xt.textContent = 'Time';
  
  
});
</script>
</body></html>
